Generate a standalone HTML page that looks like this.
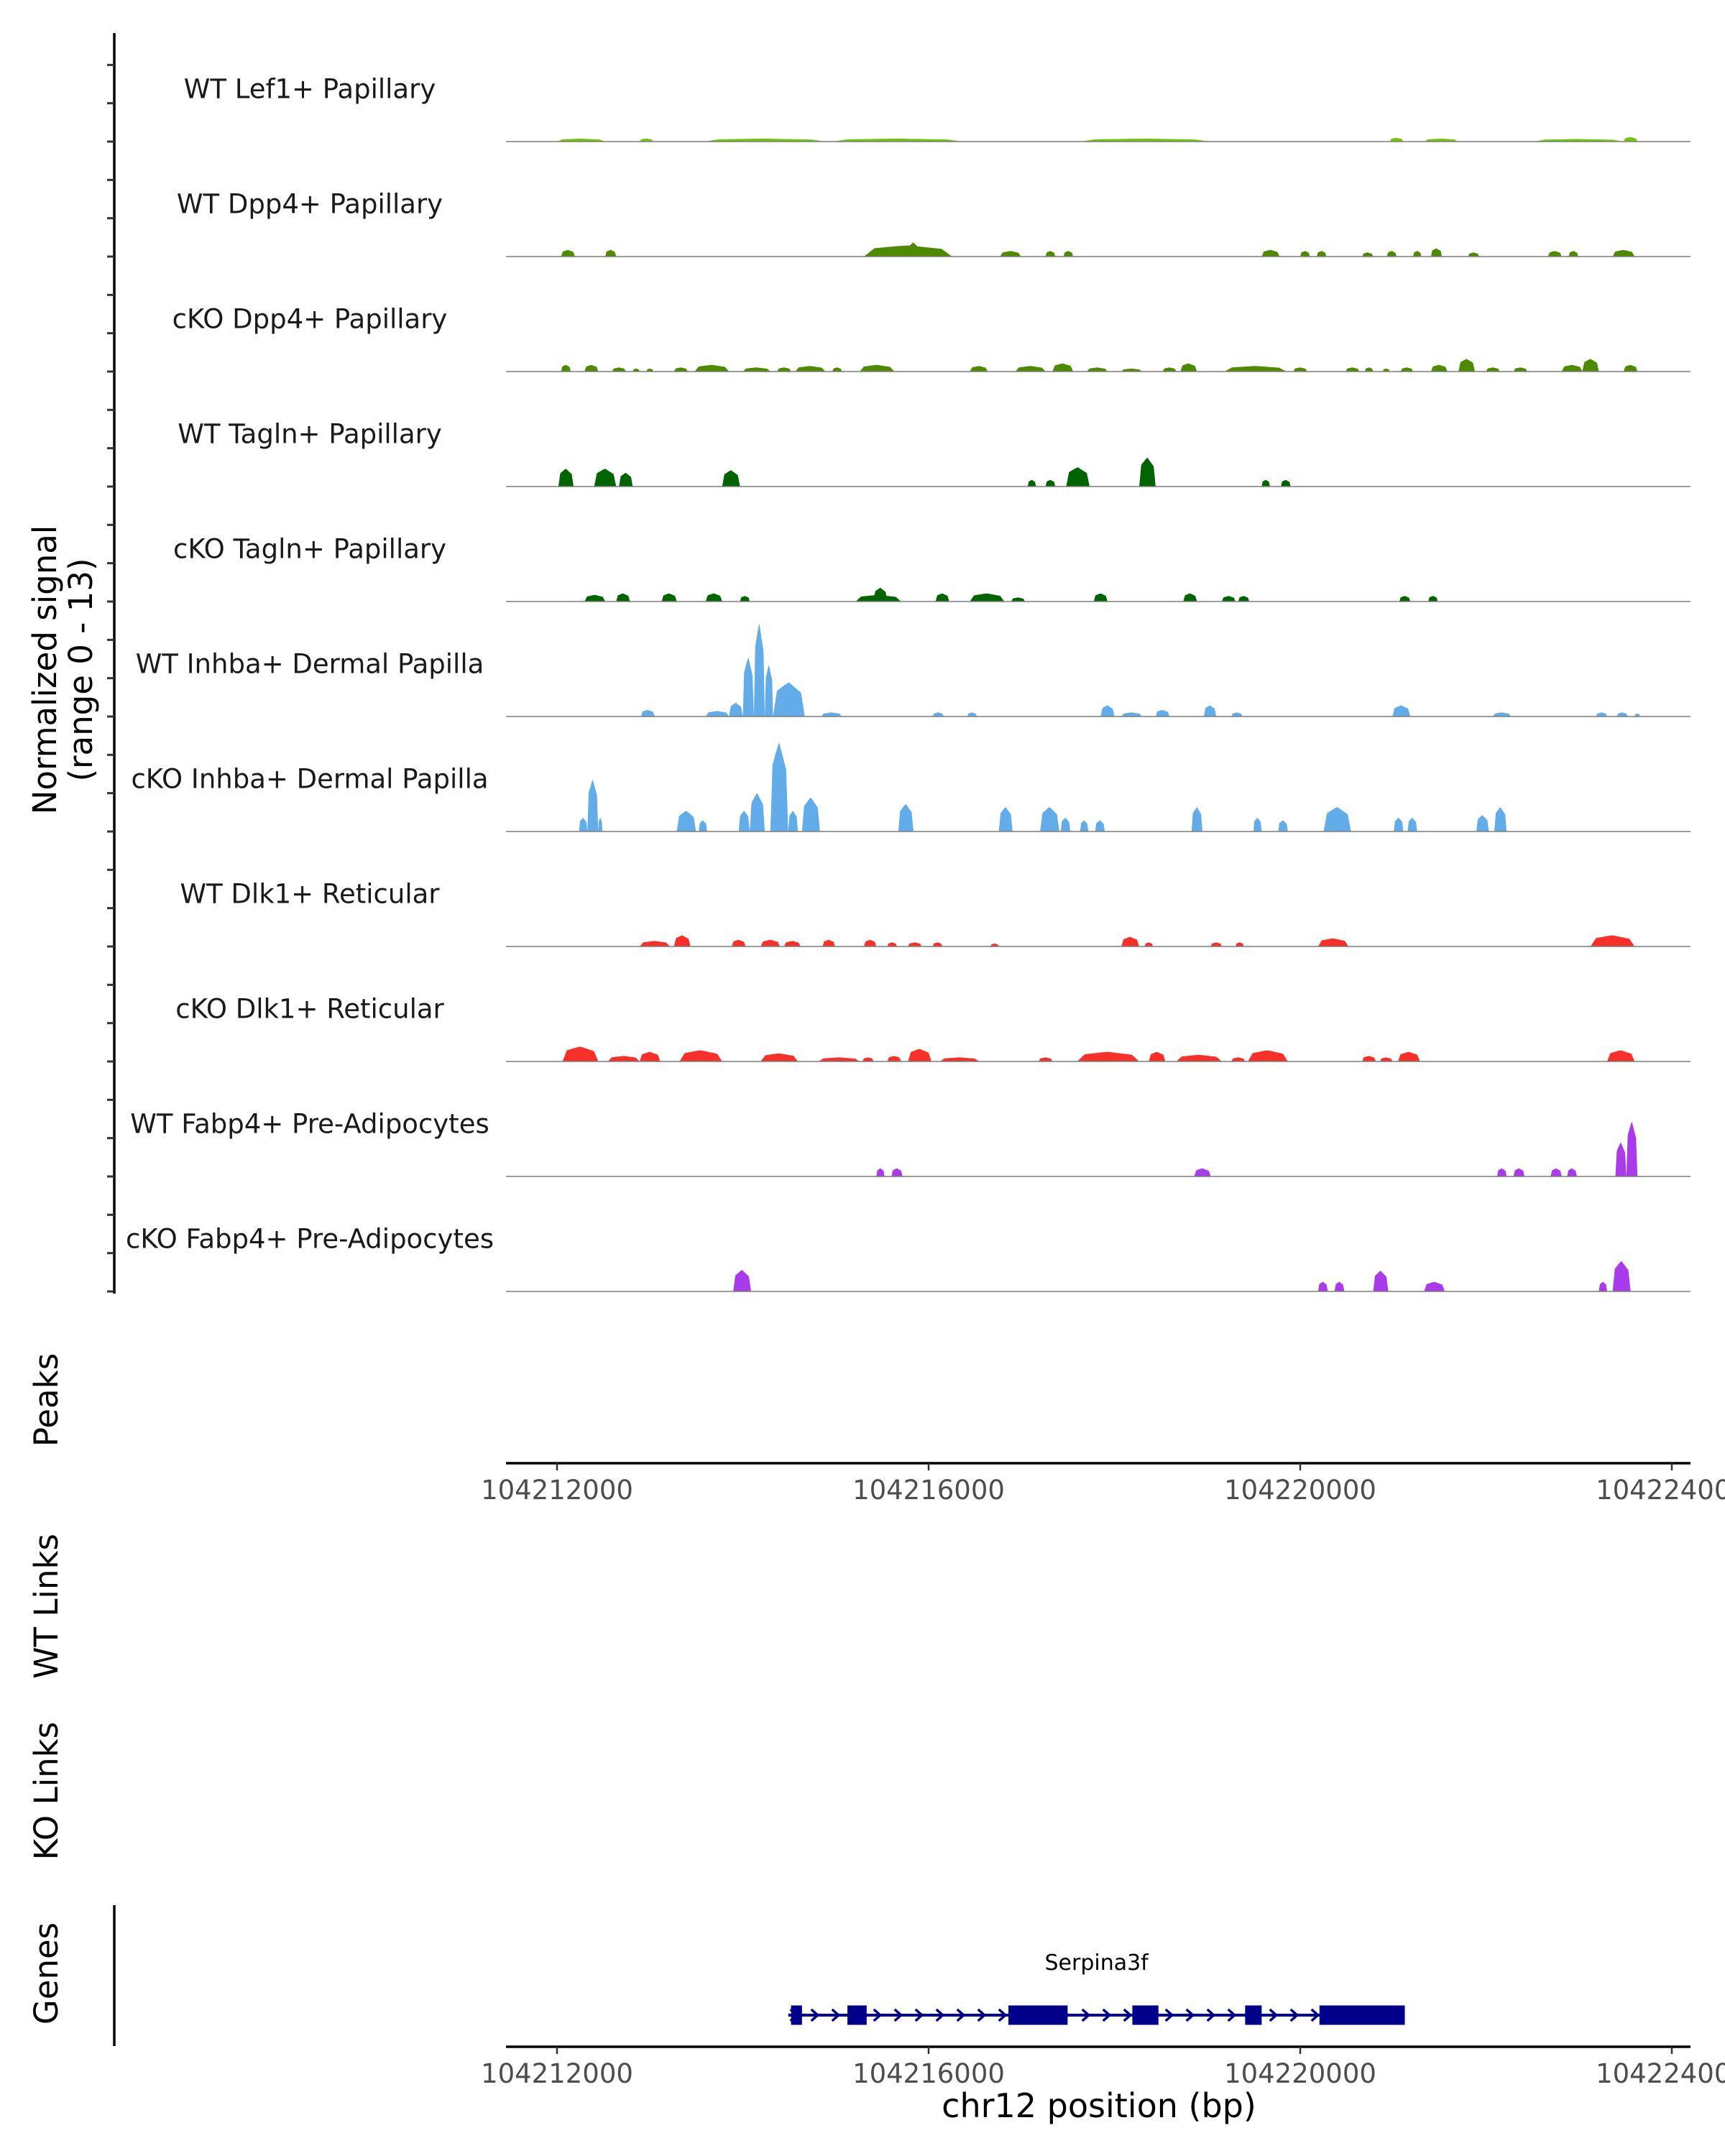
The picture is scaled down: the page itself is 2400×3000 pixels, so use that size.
<!DOCTYPE html>
<html>
<head>
<meta charset="utf-8">
<style>
  html, body { margin: 0; padding: 0; background: #ffffff; }
  svg { display: block; }
  text { font-family: "DejaVu Sans", "Liberation Sans", sans-serif; }
</style>
</head>
<body>
<svg id="chart" width="2400" height="3000" viewBox="0 0 2400 3000" xmlns="http://www.w3.org/2000/svg">
  <rect x="0" y="0" width="2400" height="3000" fill="#ffffff"/>
  <g id="tracks"></g>
  <g id="axes"></g>
  <g id="genes"></g>
</svg>
<script>
// ---- data ----
const regionOrigin = 104212000;          // bp; peak offsets below are relative to this
const regionStart = 104211451;
const regionEnd = 104224208;
const signalMax = 13;
const tickPositions = [104212000, 104216000, 104220000, 104224000];
const tickLabels = ["104212000", "104216000", "104220000", "104224000"];

const trackNames = [
  "WT Lef1+ Papillary", "WT Dpp4+ Papillary", "cKO Dpp4+ Papillary",
  "WT Tagln+ Papillary", "cKO Tagln+ Papillary", "WT Inhba+ Dermal Papilla",
  "cKO Inhba+ Dermal Papilla", "WT Dlk1+ Reticular", "cKO Dlk1+ Reticular",
  "WT Fabp4+ Pre-Adipocytes", "cKO Fabp4+ Pre-Adipocytes"
];
const trackColors = ["#6fc700", "#4e8a00", "#4e8a00", "#006400", "#006400",
  "#62acea", "#62acea", "#f8302a", "#f8302a", "#a93beb", "#a93beb"];

// peaks: [startOffset bp, endOffset bp, height (signal units)]
const peaksWtLef1 = [[0,519,0.4],[889,1037,0.4],[1585,2889,0.4],[2963,4370,0.4],[5630,7037,0.4],[8963,9111,0.5],[9333,9704,0.4],[10519,11481,0.35],[11481,11630,0.6]];
const peaksWtDpp4 = [[44,193,0.9],[519,637,0.9],[3304,4252,1.5],[3778,3896,1.9],[4770,4993,0.75],[5259,5363,0.75],[5452,5556,0.75],[7585,7778,0.9],[8000,8104,0.75],[8178,8282,0.75],[8667,8785,0.55],[8933,9037,0.75],[9215,9304,0.75],[9407,9526,1.1],[9807,9926,0.55],[10667,10815,0.75],[10889,10993,0.75],[11363,11600,0.9]];
const peaksCkoDpp4 = [[44,148,0.9],[296,444,0.9],[593,741,0.55],[815,889,0.4],[963,1037,0.4],[1259,1407,0.55],[1481,1852,0.9],[2000,2296,0.55],[2370,2519,0.55],[2563,2889,0.75],[2963,3067,0.55],[3259,3630,0.9],[4444,4637,0.75],[4933,5259,0.75],[5333,5556,1.1],[5704,5926,0.55],[6074,6296,0.4],[6519,6667,0.55],[6711,6889,1.1],[7185,7852,0.75],[7926,8074,0.55],[8489,8637,0.55],[8696,8785,0.55],[8889,8963,0.4],[9081,9215,0.55],[9407,9585,0.9],[9704,9881,1.7],[10000,10148,0.55],[10296,10444,0.55],[10815,11037,0.9],[11037,11215,1.7],[11481,11630,0.9]];
const peaksWtTagln = [[15,178,2.4],[400,637,2.4],[667,815,1.85],[1778,1970,2.2],[5067,5156,0.9],[5259,5363,0.9],[5481,5733,2.6],[6267,6444,3.9],[7585,7674,0.9],[7793,7896,0.9]];
const peaksCkoTagln = [[296,519,0.9],[637,785,1.1],[1126,1289,1.1],[1600,1778,1.1],[1970,2074,0.75],[3215,3704,0.9],[3407,3556,1.85],[4074,4222,1.1],[4444,4815,1.1],[4889,5037,0.55],[5778,5926,1.1],[6741,6889,1.1],[7156,7304,0.75],[7333,7452,0.75],[9067,9185,0.75],[9378,9481,0.75]];
const peaksWtInhba = [[904,1052,0.9],[1600,1852,0.75],[1852,2000,1.85],[2000,2119,8],[2119,2237,12.6],[2237,2326,7],[2326,2667,4.6],[2844,3067,0.55],[4044,4163,0.55],[4415,4519,0.55],[5852,6000,1.5],[6074,6296,0.55],[6444,6593,0.9],[6963,7096,1.5],[7259,7378,0.55],[8993,9185,1.5],[10074,10267,0.55],[11185,11304,0.55],[11407,11526,0.55],[11600,11659,0.4]];
const peaksCkoInhba = [[237,326,1.85],[326,444,7],[444,489,1.85],[1289,1496,2.8],[1526,1615,1.5],[1956,2074,2.8],[2074,2237,5.2],[2296,2489,12],[2489,2593,2.8],[2637,2830,4.6],[3674,3837,3.7],[4756,4904,3.3],[5200,5407,3.3],[5422,5526,1.85],[5630,5719,1.5],[5793,5896,1.5],[6830,6948,3.3],[7496,7585,1.85],[7763,7867,1.5],[8252,8548,3.3],[9007,9111,1.85],[9156,9259,1.85],[9896,10030,2.2],[10089,10222,3.3]];
const peaksWtDlk1 = [[889,1215,0.75],[1259,1437,1.5],[1881,2030,0.9],[2193,2400,0.9],[2444,2622,0.75],[2859,2993,0.9],[3304,3437,0.9],[3556,3659,0.55],[3778,3926,0.55],[4044,4148,0.55],[4667,4756,0.4],[6074,6267,1.3],[6326,6415,0.55],[7037,7156,0.55],[7304,7393,0.55],[8193,8519,1.1],[11126,11600,1.5]];
const peaksCkoDlk1 = [[59,444,2.0],[548,889,0.75],[889,1111,1.3],[1319,1778,1.5],[2193,2593,1.1],[2815,3259,0.55],[3289,3407,0.55],[3556,3704,0.75],[3778,4030,1.7],[4119,4548,0.55],[5185,5333,0.55],[5600,6267,1.3],[6370,6548,1.3],[6667,7156,0.9],[7259,7407,0.55],[7437,7867,1.5],[8667,8815,0.75],[8859,8993,0.55],[9052,9289,1.3],[11304,11600,1.5]];
const peaksWtFabp4 = [[3437,3526,1.1],[3600,3719,1.1],[6859,7037,1.1],[10119,10222,1.1],[10296,10415,1.1],[10696,10815,1.1],[10874,10978,1.1],[11393,11511,4.6],[11511,11630,7.4]];
const peaksCkoFabp4 = [[1896,2089,2.9],[8193,8296,1.3],[8370,8474,1.3],[8785,8948,2.8],[9333,9556,1.3],[11215,11304,1.3],[11363,11556,4.1]];

const geneName = "Serpina3f";
const geneStart = 104214489;
const geneEnd = 104221126;
const exonStarts = [104214519, 104215126, 104216859, 104218193, 104219407, 104220207];
const exonEnds = [104214637, 104215333, 104217496, 104218474, 104219585, 104221126];

const sideTitles = ["Peaks", "WT Links", "KO Links", "Genes"];

// ---- layout ----
const NS = "http://www.w3.org/2000/svg";
const plotLeft = 704, plotRight = 2352;
const firstBaseline = 197, trackStep = 160, unitPx = 10.3;
const pxPerBp = 517 / 4000;
function xs(pos) { return 775 + (pos - 104212000) * pxPerBp; }
function mk(tag, attrs, parent) {
  const e = document.createElementNS(NS, tag);
  for (const k in attrs) e.setAttribute(k, attrs[k]);
  parent.appendChild(e);
  return e;
}
const tracksG = document.getElementById("tracks");
const axesG = document.getElementById("axes");
const genesG = document.getElementById("genes");
const allPeaks = [peaksWtLef1, peaksWtDpp4, peaksCkoDpp4, peaksWtTagln, peaksCkoTagln,
  peaksWtInhba, peaksCkoInhba, peaksWtDlk1, peaksCkoDlk1, peaksWtFabp4, peaksCkoFabp4];

trackNames.forEach(function (name, i) {
  const base = firstBaseline + i * trackStep;
  const g = mk("g", {}, tracksG);
  
  
  const lbl = mk("text", { x: 431, y: base - 71, "text-anchor": "middle", "dominant-baseline": "middle", "font-size": 37, fill: "#1a1a1a" }, g);
  lbl.textContent = name;
  
  
  allPeaks[i].forEach(function (p) {
    const x0 = xs(regionOrigin + p[0]), x1 = xs(regionOrigin + p[1]);
    const h = p[2] * unitPx, w = x1 - x0, mid = (x0 + x1) / 2;
    const pts = [[x0, base], [x0 + w * 0.12, base - h * 0.75], [mid - w * 0.1, base - h * 0.95], [mid, base - h], [mid + w * 0.1, base - h * 0.92], [x1 - w * 0.12, base - h * 0.7], [x1, base]];
    const poly = mk("polygon", { points: pts.map(q => q[0].toFixed(1) + "," + q[1].toFixed(1)).join(" "), fill: trackColors[i] }, g);
    
    
  });
  const bl = mk("line", { x1: plotLeft, x2: plotRight, y1: base, y2: base, stroke: "#7f7f7f", "stroke-width": 1.6 }, g);
  
  
});

// left y axis
const yAxis = mk("line", { x1: 159, x2: 159, y1: 46, y2: 1800, stroke: "#000", "stroke-width": 3.5 }, axesG);


for (let k = 0; k <= 32; k++) {
  const y = firstBaseline - 2 * trackStep / 3 + k * trackStep / 3;
  const t = mk("line", { x1: 149, x2: 159, y1: y, y2: y, stroke: "#333", "stroke-width": 3 }, axesG);
  
  
}
const yt = mk("text", { transform: "translate(78,932) rotate(-90)", "text-anchor": "middle", "font-size": 45, fill: "#000" }, axesG);


const ts1 = mk("tspan", { x: 0, dy: 0 }, yt); ts1.textContent = "Normalized signal";
const ts2 = mk("tspan", { x: 0, dy: 50 }, yt); ts2.textContent = "(range 0 - 13)";

// side titles
const sideY = [1948, 2235, 2492, 2746];
sideTitles.forEach(function (s, i) {
  const t = mk("text", { transform: "translate(80," + sideY[i] + ") rotate(-90)", "text-anchor": "middle", "font-size": 45, fill: "#000" }, axesG);
  t.textContent = s;
  
  
});

// x axes
function xAxis(y, name) {
  const g = mk("g", {}, axesG);
  
  
  mk("line", { x1: plotLeft, x2: plotRight, y1: y, y2: y, stroke: "#000", "stroke-width": 3.5 }, g);
  tickPositions.forEach(function (p, i) {
    const tl = mk("line", { x1: xs(p), x2: xs(p), y1: y, y2: y + 10, stroke: "#333", "stroke-width": 2.5 }, g);
    
    
    const tx = mk("text", { x: xs(p), y: y + 50, "text-anchor": "middle", "font-size": 37, fill: "#4d4d4d" }, g);
    tx.textContent = tickLabels[i];
    
    
  });
}
xAxis(2036, "peaks-x-axis");
xAxis(2848, "genes-x-axis");
const xt = mk("text", { x: 1529, y: 2946, "text-anchor": "middle", "font-size": 46, fill: "#000" }, axesG);
xt.textContent = "chr12 position (bp)";



// genes axis
const ga = mk("line", { x1: 159, x2: 159, y1: 2651, y2: 2847, stroke: "#000", "stroke-width": 3.5 }, axesG);



// gene model
const gy = 2804;
const gl = mk("line", { x1: xs(geneStart), x2: xs(geneEnd), y1: gy, y2: gy, stroke: "#00008b", "stroke-width": 4 }, genesG);


for (let x = xs(geneStart) + 8; x < xs(geneEnd) - 8; x += 29) {
  const c = mk("polyline", { points: (x - 5) + "," + (gy - 8) + " " + (x + 4) + "," + gy + " " + (x - 5) + "," + (gy + 8), fill: "none", stroke: "#00008b", "stroke-width": 3.5 }, genesG);
  
  
}
exonStarts.forEach(function (s, i) {
  const r = mk("rect", { x: xs(s), y: gy - 13.5, width: Math.max(6, xs(exonEnds[i]) - xs(s)), height: 27, fill: "#00008b" }, genesG);
  
  
});
const gn = mk("text", { x: (xs(geneStart) + xs(geneEnd)) / 2, y: 2741, "text-anchor": "middle", "font-size": 30, fill: "#000" }, genesG);
gn.textContent = geneName;


</script>
</body>
</html>
